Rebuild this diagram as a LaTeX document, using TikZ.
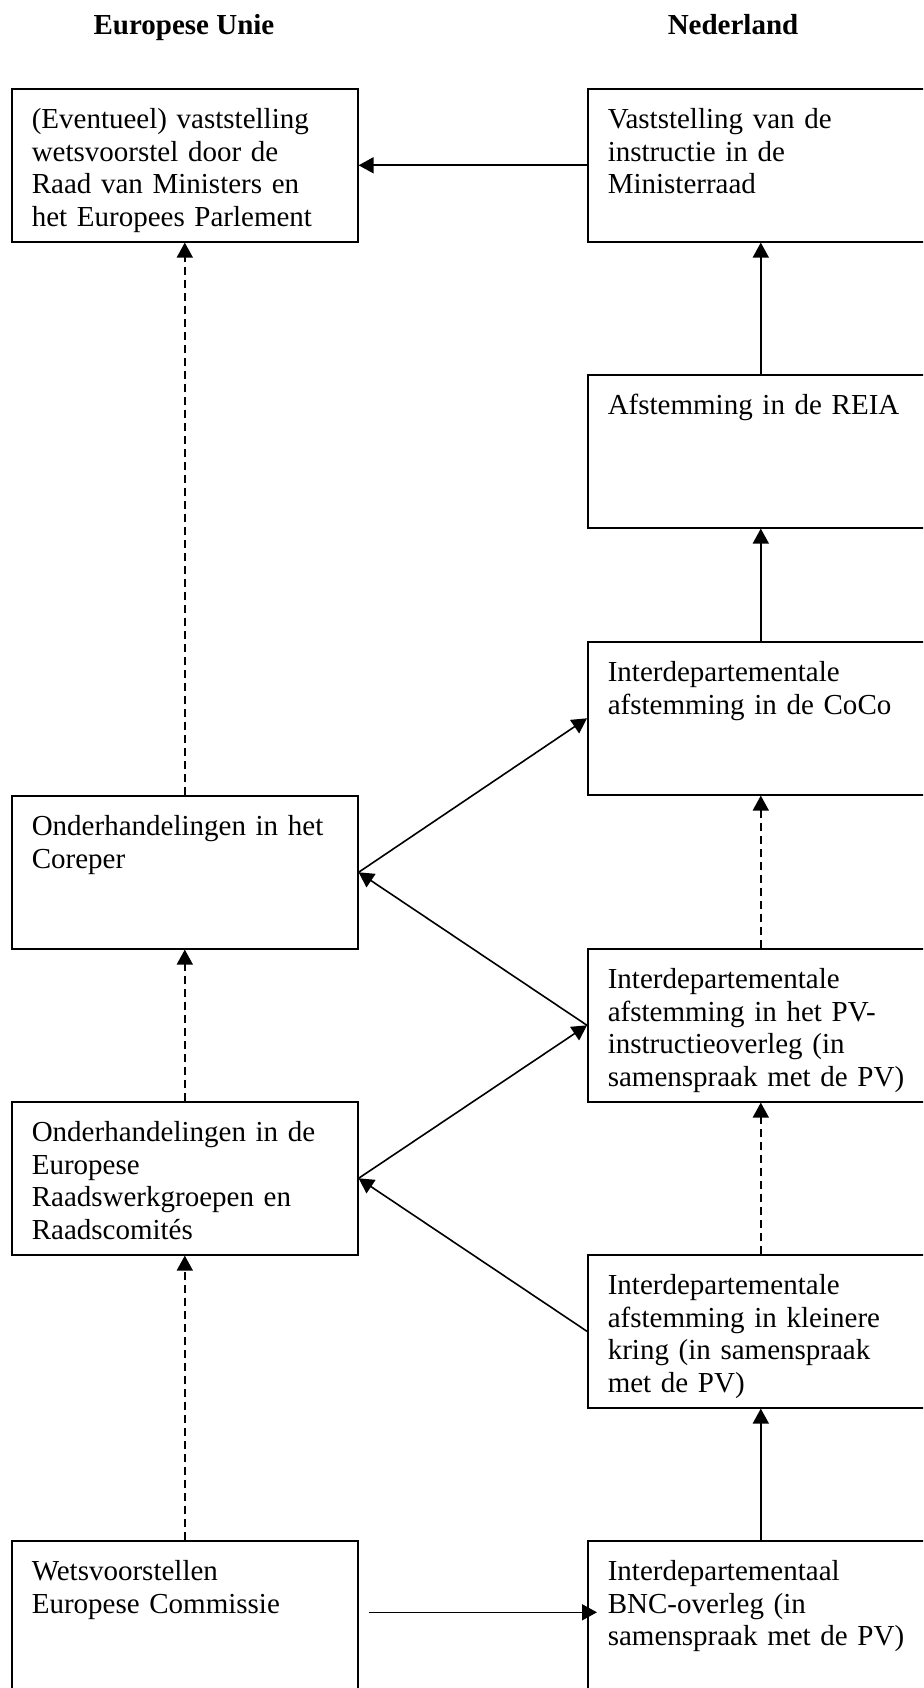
\documentclass[tikz,border=0pt]{standalone}
\usepackage{fontspec}
\setmainfont{Liberation Serif}
\usetikzlibrary{arrows.meta}

\begin{document}
\begin{tikzpicture}[x=1pt,y=-1pt,
  stap/.style={draw, line width=1.6pt, anchor=north west, text width=306pt,
    inner xsep=20pt, inner ysep=0pt, align=left, text height=40pt, text depth=113pt,
    font=\fontsize{29}{32.5}\selectfont},
  kop/.style={anchor=base, font=\fontsize{29}{32.5}\selectfont\bfseries},
  pijl/.style={line width=1.6pt, -{Triangle[length=15pt,width=16pt]}},
  stippel/.style={pijl, dash pattern=on 8pt off 5pt}]
\path[use as bounding box, clip] (0,0) rectangle (923,1688);

\node[kop] (eu) at (184,35) {Europese Unie};
\node[kop] (nl) at (733,35) {Nederland};

% Europese Unie
\node[stap] (vast) at (11,88) {(Eventueel) vaststelling\\ wetsvoorstel door de\\ Raad van Ministers en\\ het Europees Parlement};
\node[stap] (coreper) at (11,795) {Onderhandelingen in het\\ Coreper};
\node[stap] (raad) at (11,1101) {Onderhandelingen in de\\ Europese\\ Raadswerkgroepen en\\ Raadscomit\'es};
\node[stap] (commissie) at (11,1540) {Wetsvoorstellen\\ Europese Commissie};

% Nederland
\node[stap] (mr) at (587,88) {Vaststelling van de\\ instructie in de\\ Ministerraad};
\node[stap] (reia) at (587,374) {Afstemming in de REIA};
\node[stap] (coco) at (587,641) {Interdepartementale\\ afstemming in de CoCo};
\node[stap] (pvi) at (587,948) {Interdepartementale\\ afstemming in het PV-\\ instructieoverleg (in\\ samenspraak met de PV)};
\node[stap] (kring) at (587,1254) {Interdepartementale\\ afstemming in kleinere\\ kring (in samenspraak\\ met de PV)};
\node[stap] (bnc) at (587,1540) {Interdepartementaal\\ BNC-overleg (in\\ samenspraak met de PV)};

\draw[pijl] (mr.west) -- (vast.east);
\draw[pijl] (reia) -- (mr);
\draw[pijl] (coco) -- (reia);
\draw[stippel] (pvi) -- (coco);
\draw[stippel] (kring) -- (pvi);
\draw[pijl] (bnc) -- (kring);

\draw[stippel] (coreper) -- (vast);
\draw[stippel] (raad) -- (coreper);
\draw[stippel] (commissie) -- (raad);

\draw[pijl] (coreper.east) -- (coco.west);
\draw[pijl] (pvi.west) -- (coreper.east);
\draw[pijl] (raad.east) -- (pvi.west);
\draw[pijl] (kring.west) -- (raad.east);
\draw[pijl] ([xshift=10pt,yshift=5pt]commissie.east) -- ([xshift=10pt,yshift=5pt]bnc.west);
\end{tikzpicture}
\end{document}
